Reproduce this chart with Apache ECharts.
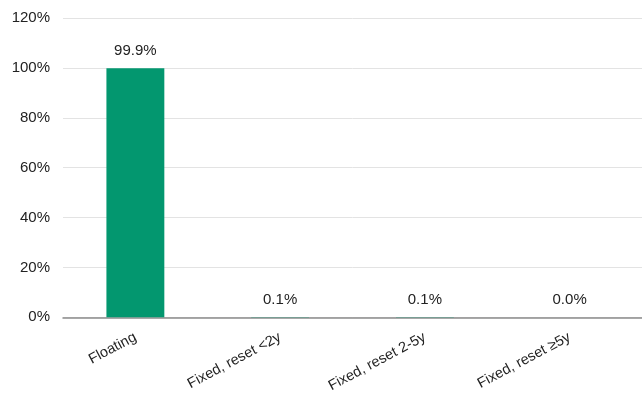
<!DOCTYPE html>
<html>
<head>
<meta charset="utf-8">
<script src="https://cdn.jsdelivr.net/npm/echarts@6/dist/echarts.min.js"></script>
<style>html,body{margin:0;padding:0;background:#fff;}#c{width:642px;height:395px;}</style>
</head>
<body>
<div id="c"></div>
<script>
const categories = ['Floating', 'Fixed, reset <2y', 'Fixed, reset 2-5y', 'Fixed, reset \u22655y'];
const shares = [99.9, 0.1, 0.1, 0.0];
const yTicks = [0, 20, 40, 60, 80, 100, 120];

const chart = echarts.init(document.getElementById('c'), null, {renderer: 'canvas'});
chart.setOption({
  animation: false,
  textStyle: {fontFamily: 'Liberation Sans, Arial, sans-serif'},
  grid: {left: 63, top: 18, bottom: 76, width: 587, containLabel: false},
  xAxis: {
    type: 'category',
    data: categories,
    axisLine: {lineStyle: {color: '#8c8c8c', width: 1.5}},
    axisTick: {show: false},
    axisLabel: {rotate: 28, margin: 19, color: '#222', fontSize: 14.5, interval: 0}
  },
  yAxis: {
    type: 'value',
    min: yTicks[0],
    max: yTicks[yTicks.length - 1],
    interval: 20,
    axisLine: {show: false},
    axisTick: {show: false},
    splitLine: {lineStyle: {color: '#e3e3e3', width: 1}},
    axisLabel: {margin: 13, color: '#222', fontSize: 15, formatter: v => v + '%'}
  },
  series: [{
    type: 'bar',
    data: shares,
    barWidth: '40%',
    itemStyle: {color: '#03976f'},
    label: {
      show: true,
      position: 'top',
      distance: 10,
      color: '#222',
      fontSize: 15,
      formatter: p => p.value.toFixed(1) + '%'
    }
  }]
});
</script>
</body>
</html>
